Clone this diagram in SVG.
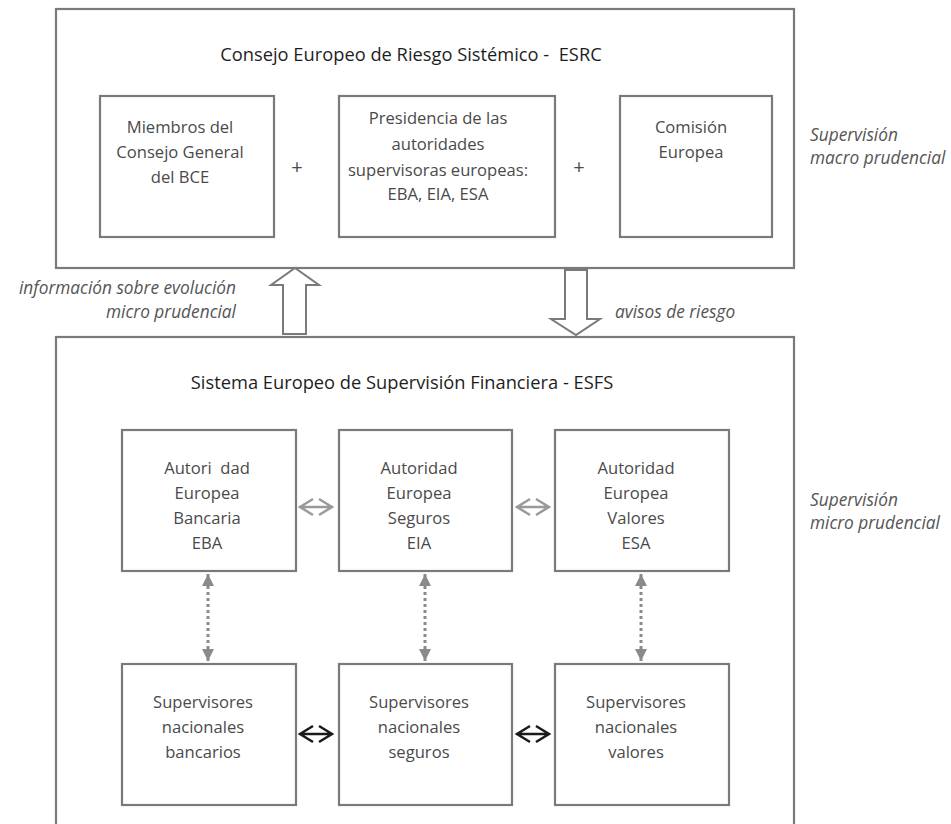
<svg xmlns="http://www.w3.org/2000/svg" width="951" height="824" viewBox="0 0 951 824" xml:space="preserve">
<style>
.frame{fill:#fff;stroke:#7a7a7a;stroke-width:2.2}
.box{fill:#fff;stroke:#7a7a7a;stroke-width:2.2}
.title{font-family:"Open Sans","Liberation Sans",sans-serif;font-size:18.3px;fill:#1e1e1e;text-anchor:middle;white-space:pre}
.t{font-family:"Open Sans","Liberation Sans",sans-serif;font-size:16.6px;fill:#4a4a4a;text-anchor:middle;white-space:pre}
.plus{font-family:"Open Sans","Liberation Sans",sans-serif;font-size:20px;fill:#4a4a4a;text-anchor:middle}
.it{font-family:"Open Sans","Liberation Sans",sans-serif;font-size:17.3px;font-style:italic;fill:#555}
.blk{fill:#fff;stroke:#7a7a7a;stroke-width:2}
.dot{stroke:#8a8a8a;stroke-width:3;stroke-dasharray:3 3;fill:none}
.hg{stroke:#9a9a9a;stroke-width:2.5;fill:none}
.hb{stroke:#1a1a1a;stroke-width:2.5;fill:none}
</style>
<defs>
<marker id="tri" viewBox="0 0 10 10" refX="10" refY="5" markerWidth="4" markerHeight="4" orient="auto-start-reverse" markerUnits="strokeWidth">
<path d="M0,0 L10,5 L0,10 Z" fill="#8a8a8a"/>
</marker>
</defs>
<rect width="951" height="824" fill="#fff"/>

<g id="esrc">
<rect class="frame" x="56" y="9" width="738" height="259"/>
<text class="title" x="411" y="61">Consejo Europeo de Riesgo Sistémico -  ESRC</text>
</g>
<g id="miembros">
<rect class="box" x="100" y="96" width="174" height="141"/>
<text class="t" x="180" y="133">Miembros del</text>
<text class="t" x="180" y="158">Consejo General</text>
<text class="t" x="180" y="183">del BCE</text>
</g>
<text class="plus" x="297" y="174">+</text>
<g id="presidencia">
<rect class="box" x="339" y="96" width="216" height="141"/>
<text class="t" x="438" y="124">Presidencia de las</text>
<text class="t" x="438" y="150">autoridades</text>
<text class="t" x="438" y="176">supervisoras europeas:</text>
<text class="t" x="438" y="200">EBA, EIA, ESA</text>
</g>
<text class="plus" x="579" y="174">+</text>
<g id="comision">
<rect class="box" x="620" y="96" width="152" height="141"/>
<text class="t" x="691" y="133">Comisión</text>
<text class="t" x="691" y="158">Europea</text>
</g>
<g id="label-macro">
<text class="it" x="810" y="141">Supervisión</text>
<text class="it" x="810" y="164">macro prudencial</text>
</g>

<g id="esfs">
<rect class="frame" x="56" y="337" width="738" height="500"/>
<text class="title" x="402" y="389">Sistema Europeo de Supervisión Financiera - ESFS</text>
</g>
<g id="eba">
<rect class="box" x="122" y="430" width="174" height="141"/>
<text class="t" x="207" y="474">Autori  dad</text>
<text class="t" x="207" y="499">Europea</text>
<text class="t" x="207" y="524">Bancaria</text>
<text class="t" x="207" y="549">EBA</text>
</g>
<g id="eia">
<rect class="box" x="339" y="430" width="173" height="141"/>
<text class="t" x="419" y="474">Autoridad</text>
<text class="t" x="419" y="499">Europea</text>
<text class="t" x="419" y="524">Seguros</text>
<text class="t" x="419" y="549">EIA</text>
</g>
<g id="esa">
<rect class="box" x="555" y="430" width="174" height="141"/>
<text class="t" x="636" y="474">Autoridad</text>
<text class="t" x="636" y="499">Europea</text>
<text class="t" x="636" y="524">Valores</text>
<text class="t" x="636" y="549">ESA</text>
</g>
<g id="snb">
<rect class="box" x="122" y="664" width="174" height="141"/>
<text class="t" x="203" y="708">Supervisores</text>
<text class="t" x="203" y="733">nacionales</text>
<text class="t" x="203" y="758">bancarios</text>
</g>
<g id="sns">
<rect class="box" x="339" y="664" width="173" height="141"/>
<text class="t" x="419" y="708">Supervisores</text>
<text class="t" x="419" y="733">nacionales</text>
<text class="t" x="419" y="758">seguros</text>
</g>
<g id="snv">
<rect class="box" x="555" y="664" width="174" height="141"/>
<text class="t" x="636" y="708">Supervisores</text>
<text class="t" x="636" y="733">nacionales</text>
<text class="t" x="636" y="758">valores</text>
</g>
<g id="label-micro">
<text class="it" x="810" y="506">Supervisión</text>
<text class="it" x="810" y="529">micro prudencial</text>
</g>

<g id="connectors">
<path class="blk" d="M283,334 L283,285 L271,285 L295,268 L319,285 L306,285 L306,334 Z"/>
<path class="blk" d="M565,270 L587,270 L587,319 L600,319 L576,335 L551,319 L565,319 Z"/>
<text class="it" x="236" y="294" text-anchor="end">información sobre evolución</text>
<text class="it" x="236" y="318" text-anchor="end">micro prudencial</text>
<text class="it" x="615" y="318">avisos de riesgo</text>

<path class="hg" d="M300,507 H332 M313,499 L300,507 L313,515 M319,499 L332,507 L319,515"/>
<path class="hg" d="M517,507 H549 M530,499 L517,507 L530,515 M536,499 L549,507 L536,515"/>
<path class="hb" d="M300,734 H332 M313,726 L300,734 L313,742 M319,726 L332,734 L319,742"/>
<path class="hb" d="M517,734 H549 M530,726 L517,734 L530,742 M536,726 L549,734 L536,742"/>

<line class="dot" x1="208" y1="574" x2="208" y2="661" marker-start="url(#tri)" marker-end="url(#tri)"/>
<line class="dot" x1="425" y1="574" x2="425" y2="661" marker-start="url(#tri)" marker-end="url(#tri)"/>
<line class="dot" x1="641" y1="574" x2="641" y2="661" marker-start="url(#tri)" marker-end="url(#tri)"/>
</g>
</svg>
